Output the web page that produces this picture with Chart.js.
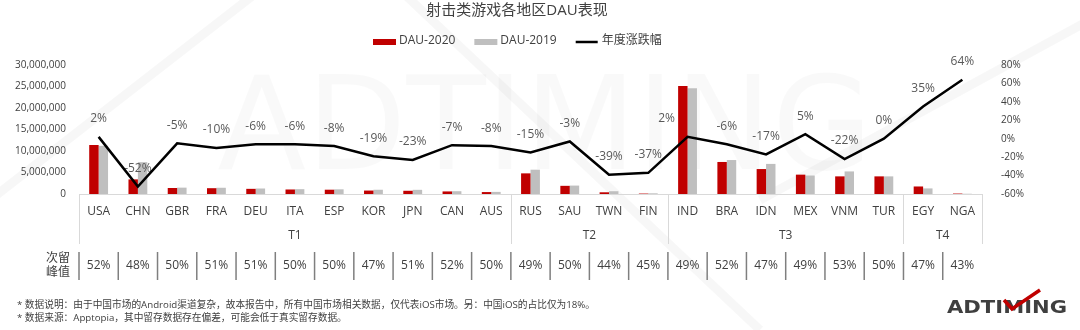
<!DOCTYPE html>
<html>
<head>
<meta charset="utf-8">
<script src="https://cdn.jsdelivr.net/npm/chart.js@4.4.1/dist/chart.umd.min.js"></script>
<style>
	html, body { margin: 0; padding: 0; background: #fff; }
	#wrap { width: 1080px; height: 330px; }
</style>
</head>
<body>
<div id="wrap"><canvas id="dauChart" width="1080" height="330"></canvas></div>
<script>
// chart data
const countries = ["USA", "CHN", "GBR", "FRA", "DEU", "ITA", "ESP", "KOR", "JPN", "CAN", "AUS",
	"RUS", "SAU", "TWN", "FIN", "IND", "BRA", "IDN", "MEX", "VNM", "TUR", "EGY", "NGA"];
const dau2020 = [11400000, 3400000, 1400000, 1350000, 1200000, 1050000, 1000000, 800000, 750000, 600000, 450000,
	4800000, 1900000, 400000, 100000, 25100000, 7450000, 5800000, 4500000, 4100000, 4100000, 1750000, 100000];
const dau2019 = [11200000, 7400000, 1480000, 1450000, 1280000, 1120000, 1090000, 990000, 970000, 650000, 490000,
	5650000, 1960000, 650000, 160000, 24600000, 7900000, 7000000, 4300000, 5250000, 4100000, 1300000, 60000];
const yoyChange = [2, -52, -5, -10, -6, -6, -8, -19, -23, -7, -8,
	-15, -3, -39, -37, 2, -6, -17, 5, -22, 0, 35, 64];
const retention = [52, 48, 50, 51, 51, 50, 50, 47, 51, 52, 50,
	49, 50, 44, 45, 49, 52, 47, 49, 53, 50, 47, 43];
const tierNames = ["T1", "T2", "T3", "T4"];
const tierSizes = [11, 4, 6, 2];

const FONT = "'Open Sans', 'Noto Sans CJK SC', sans-serif";
const TEXT = "#404040";
const RED = "#C00000";
const GREY = "#BFBFBF";

const notes = [
	"* 数据说明：由于中国市场的Android渠道复杂，故本报告中，所有中国市场相关数据，仅代表iOS市场。另：中国iOS的占比仅为18%。",
	"* 数据来源：Apptopia，其中留存数据存在偏差，可能会低于真实留存数据。"
];

// background watermark
const backdrop = {
	id: "backdrop",
	beforeDraw(chart) {
		const ctx = chart.ctx;
		ctx.save();
		ctx.fillStyle = "#fff";
		ctx.fillRect(0, 0, chart.width, chart.height);
		ctx.strokeStyle = "rgba(0,0,0,0.03)";
		ctx.lineWidth = 9;
		ctx.beginPath();
		ctx.moveTo(-10, 200); ctx.lineTo(260, -10);
		ctx.moveTo(400, -10); ctx.lineTo(760, 330);
		ctx.moveTo(760, 200); ctx.lineTo(1090, 20);
		ctx.stroke();
		ctx.font = "130px 'DejaVu Sans', sans-serif";
		ctx.fillStyle = "rgba(0,0,0,0.022)";
		ctx.textBaseline = "middle";
		ctx.textAlign = "center";
		ctx.fillText("ADTIMING", 545, 135);
		ctx.restore();
	}
};

// line value labels: drawn after the bars but under the line
const lineLabels = {
	id: "lineLabels",
	afterDatasetDraw(chart, args) {
		if (args.index !== 0) return;
		const ctx = chart.ctx;
		const meta = chart.getDatasetMeta(2);
		const yLeft = chart.scales.y;
		ctx.save();
		ctx.font = "12px " + FONT;
		ctx.fillStyle = "#595959";
		ctx.textAlign = "center";
		ctx.textBaseline = "middle";
		meta.data.forEach((pt, i) => {
			let lx = pt.x;
			const ly = pt.y - 18;
			// a tall bar would hide the label, so move it to the left
			const barTop = yLeft.getPixelForValue(Math.max(dau2020[i], dau2019[i]));
			if (barTop < ly - 20) lx -= 21;
			ctx.fillText(yoyChange[i] + "%", lx, ly);
		});
		ctx.restore();
	}
};

// title, legend, tier groups, retention table, notes, logo
const extras = {
	id: "extras",
	afterDraw(chart) {
		const ctx = chart.ctx;
		const x = chart.scales.x;
		const area = chart.chartArea;
		const step = x.getPixelForValue(1) - x.getPixelForValue(0);
		ctx.save();
		ctx.textBaseline = "middle";

		// title
		ctx.fillStyle = TEXT;
		ctx.textAlign = "center";
		ctx.font = "15px " + FONT;
		ctx.fillText("射击类游戏各地区DAU表现", 517, 11);

		// legend
		ctx.font = "12px " + FONT;
		ctx.textAlign = "left";
		let lx = 373;
		chart.data.datasets.forEach((ds) => {
			if (ds.type === "line") {
				ctx.strokeStyle = ds.borderColor;
				ctx.lineWidth = 2.5;
				ctx.beginPath();
				ctx.moveTo(lx, 42);
				ctx.lineTo(lx + 22, 42);
				ctx.stroke();
			} else {
				ctx.fillStyle = ds.backgroundColor;
				ctx.fillRect(lx, 39, 23, 6);
			}
			ctx.fillStyle = TEXT;
			ctx.fillText(ds.label, lx + 26, 41);
			lx += 26 + ctx.measureText(ds.label).width + 19;
		});

		// tier separators and names
		ctx.strokeStyle = "#d9d9d9";
		ctx.lineWidth = 1;
		let start = 0;
		const edges = [area.left];
		tierSizes.forEach((n) => {
			start += n;
			edges.push(start >= countries.length ? area.right : x.getPixelForValue(start) - step / 2);
		});
		ctx.beginPath();
		edges.forEach((ex) => {
			ctx.moveTo(Math.round(ex) + 0.5, area.bottom);
			ctx.lineTo(Math.round(ex) + 0.5, 244);
		});
		ctx.stroke();
		ctx.fillStyle = TEXT;
		ctx.textAlign = "center";
		ctx.font = "12px " + FONT;
		tierNames.forEach((name, i) => {
			ctx.fillText(name, (edges[i] + edges[i + 1]) / 2, 236);
		});

		// retention table
		ctx.font = "12px " + FONT;
		ctx.fillText("次留", 58, 259);
		ctx.fillText("峰值", 58, 273);
		ctx.strokeStyle = "#7f7f7f";
		ctx.lineWidth = 1.5;
		retention.forEach((v, i) => {
			const cx = x.getPixelForValue(i);
			ctx.beginPath();
			ctx.moveTo(cx - step / 2, 252);
			ctx.lineTo(cx - step / 2, 280);
			ctx.stroke();
			ctx.fillText(v + "%", cx, 266);
		});

		// notes
		ctx.textAlign = "left";
		ctx.font = "9.7px " + FONT;
		ctx.fillText(notes[0], 17, 305);
		ctx.fillText(notes[1], 17, 318);

		// logo
		ctx.font = "bold 18px 'DejaVu Sans', sans-serif";
		const w = ctx.measureText("ADTIMING").width;
		ctx.save();
		ctx.translate(947, 308);
		ctx.scale(120 / w, 1);
		ctx.fillStyle = "#3f3f3f";
		ctx.fillText("ADTIMING", 0, 0);
		ctx.restore();
		ctx.strokeStyle = RED;
		ctx.lineWidth = 3.5;
		ctx.lineJoin = "miter";
		ctx.beginPath();
		ctx.moveTo(1004, 300);
		ctx.lineTo(1012, 309);
		ctx.lineTo(1040, 290);
		ctx.stroke();

		ctx.restore();
	}
};

const ctx = document.getElementById("dauChart").getContext("2d");
const dauChart = new Chart(ctx, {
	type: "bar",
	data: {
		labels: countries,
		datasets: [
			{
				label: "DAU-2020",
				data: dau2020,
				backgroundColor: RED,
				yAxisID: "y",
				order: 1,
				categoryPercentage: 0.48,
				barPercentage: 1
			},
			{
				label: "DAU-2019",
				data: dau2019,
				backgroundColor: GREY,
				yAxisID: "y",
				order: 1,
				categoryPercentage: 0.48,
				barPercentage: 1
			},
			{
				type: "line",
				label: "年度涨跌幅",
				data: yoyChange,
				borderColor: "#000",
				backgroundColor: "#000",
				borderWidth: 2.5,
				pointRadius: 0,
				tension: 0,
				yAxisID: "y1",
				order: 0
			}
		]
	},
	options: {
		responsive: false,
		animation: false,
		devicePixelRatio: 1,
		layout: { padding: { top: 65, left: 0, right: 0, bottom: 0 } },
		plugins: {
			legend: { display: false },
			title: { display: false },
			tooltip: { enabled: false }
		},
		scales: {
			x: {
				grid: { display: false, drawTicks: false },
				border: { display: true, color: "#d9d9d9", width: 1 },
				ticks: {
					color: TEXT,
					font: { family: FONT, size: 12 },
					padding: 10,
					maxRotation: 0,
					autoSkip: false
				},
				afterFit(scale) { scale.height = 136; }
			},
			y: {
				position: "left",
				min: 0,
				max: 30000000,
				grid: { display: false, drawTicks: false },
				border: { display: false },
				ticks: {
					stepSize: 5000000,
					color: TEXT,
					font: { family: FONT, size: 10 },
					padding: 13,
					callback: (v) => v.toLocaleString("en-US")
				},
				afterFit(scale) { scale.width = 79; }
			},
			y1: {
				position: "right",
				min: -60,
				max: 80,
				grid: { display: false, drawTicks: false },
				border: { display: false },
				ticks: {
					stepSize: 20,
					color: TEXT,
					font: { family: FONT, size: 10 },
					padding: 19,
					callback: (v) => v + "%"
				},
				afterFit(scale) { scale.width = 98; }
			}
		}
	},
	plugins: [backdrop, lineLabels, extras]
});
</script>
</body>
</html>
